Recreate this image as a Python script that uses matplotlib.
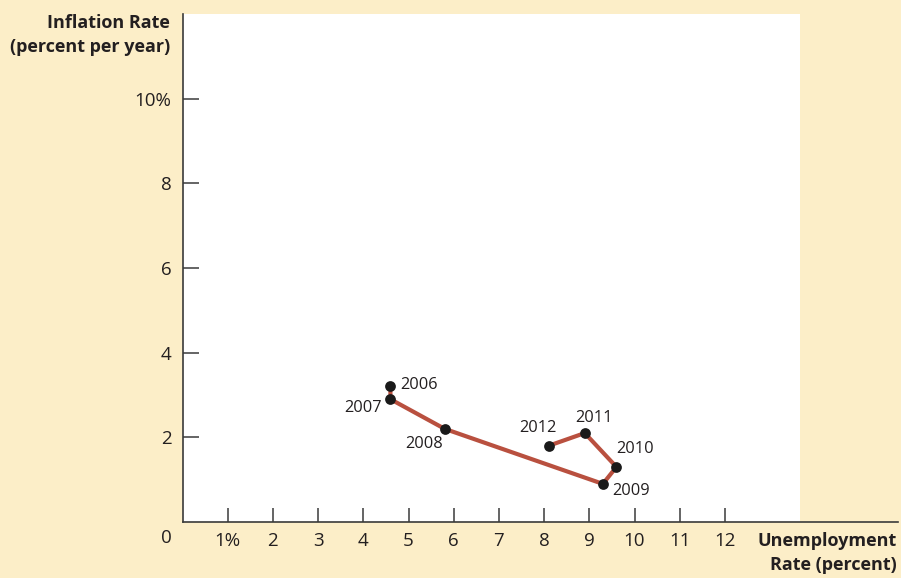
import matplotlib
matplotlib.use("Agg")
import matplotlib.pyplot as plt

# -------------------------
# Data
# -------------------------
years = ["2006", "2007", "2008", "2009", "2010", "2011", "2012"]
unemployment = [4.6, 4.6, 5.8, 9.3, 9.6, 8.9, 8.1]
inflation = [3.2, 2.9, 2.2, 0.9, 1.3, 2.1, 1.8]

x_ticks = [1, 2, 3, 4, 5, 6, 7, 8, 9, 10, 11, 12]
x_ticklabels = ["1%", "2", "3", "4", "5", "6", "7", "8", "9", "10", "11", "12"]
y_ticks = [2, 4, 6, 8, 10]
y_ticklabels = ["2", "4", "6", "8", "10%"]

# label offsets (data units) and alignment for each year
label_dx = [0.22, -0.18, -0.88, 0.21, -0.01, -0.21, -0.66]
label_dy = [0.03, -0.21, -0.36, -0.17, 0.42, 0.36, 0.42]
label_ha = ["left", "right", "left", "left", "left", "left", "left"]

# -------------------------
# Style
# -------------------------
bg = "#FCEEC8"
line_color = "#B9503F"
text_color = "#231F20"
plt.rcParams["font.family"] = ["Open Sans", "DejaVu Sans"]

W, H = 901, 578
fig = plt.figure(figsize=(W / 100, H / 100), dpi=100)
fig.patch.set_facecolor(bg)

left, right, top, bottom = 182.5, 800, 14, 522
ax = fig.add_axes([left / W, (H - bottom) / H, (right - left) / W, (bottom - top) / H])
ax.set_facecolor("white")
ax.set_xlim(0, (right - left) / 45.2)
ax.set_ylim(0, (bottom - top) / 42.35)

# -------------------------
# Plot
# -------------------------
ax.plot(unemployment, inflation, color=line_color, lw=3.0, zorder=2,
        solid_joinstyle="miter")
ax.scatter(unemployment, inflation, s=60, color="#1A1A1A", zorder=3, linewidths=0)

for yr, xv, yv, dx, dy, ha in zip(years, unemployment, inflation, label_dx, label_dy, label_ha):
    ax.text(xv + dx, yv + dy, yr, ha=ha, va="center", fontsize=11.8,
            color=text_color)

# -------------------------
# Axes
# -------------------------
for s in ["top", "right"]:
    ax.spines[s].set_visible(False)
ax.spines["bottom"].set_visible(False)
ax.spines["left"].set_color("#3a3a3a")
ax.spines["left"].set_linewidth(1.2)

# x axis line extends past the white panel
fig.add_artist(plt.Line2D([left / W, 898 / W], [(H - bottom) / H] * 2,
                          transform=fig.transFigure, color="#3a3a3a", lw=1.2))

ax.set_xticks(x_ticks)
ax.set_xticklabels(x_ticklabels)
ax.set_yticks(y_ticks)
ax.set_yticklabels(y_ticklabels)
ax.tick_params(axis="x", direction="in", length=10, width=1.1, color="#3a3a3a",
               pad=7, labelsize=13.5, labelcolor=text_color)
ax.tick_params(axis="y", direction="in", length=11.5, width=1.1, color="#3a3a3a",
               pad=8, labelsize=13.5, labelcolor=text_color)

fig.text(166 / W, 1 - 538 / H, "0", ha="center", va="center", fontsize=13.5,
         color=text_color)

fig.text(170 / W, 1 - 35 / H, "Inflation Rate\n(percent per year)", ha="right",
         va="center", fontsize=13, fontweight="bold", color=text_color,
         linespacing=1.45)
fig.text(897 / W, 1 - 553 / H, "Unemployment\nRate (percent)", ha="right",
         va="center", fontsize=13, fontweight="bold", color=text_color,
         linespacing=1.45)

plt.savefig("out.png", dpi=100, facecolor=bg)
